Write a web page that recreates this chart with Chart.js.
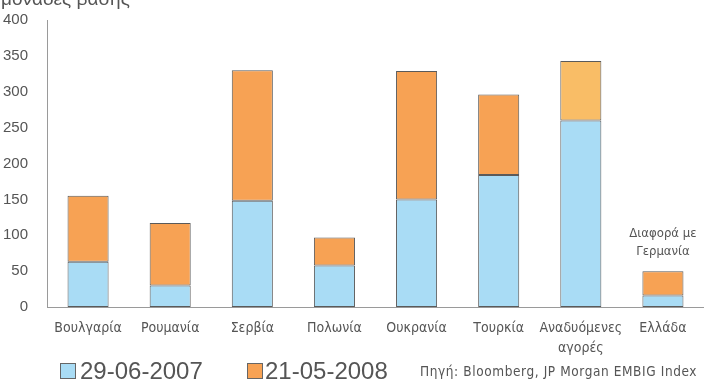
<!DOCTYPE html>
<html>
<head>
<meta charset="utf-8">
<script src="https://cdn.jsdelivr.net/npm/chart.js@4"></script>
<style>
  html, body { margin: 0; padding: 0; background: #fff; }
  #wrap { width: 704px; height: 383px; position: relative; }
</style>
</head>
<body>
<div id="wrap"><canvas id="spreads"></canvas></div>
<script>
const countries = ['Βουλγαρία', 'Ρουμανία', 'Σερβία', 'Πολωνία', 'Ουκρανία', 'Τουρκία', ['Αναδυόμενες', 'αγορές'], 'Ελλάδα'];
const spread2007 = [63, 30, 148, 58, 150, 184, 260, 16];
const spread2008 = [155, 117, 330, 97, 329, 296, 343, 50];
const yTicks = [0, 50, 100, 150, 200, 250, 300, 350, 400];

const BLUE = '#a9dcf5';
const ORANGE = '#f7a254';
const LIGHT_ORANGE = '#f9bd66';
const TEXT = '#555555';
const NARROW = '"DejaVu Sans Condensed", "Liberation Sans Narrow", sans-serif';

// orange part = rise between the two dates, stacked on the 2007 bar
const rise = spread2008.map((v, i) => v - spread2007[i]);
const riseColors = countries.map((c, i) => (i === 6 ? LIGHT_ORANGE : ORANGE));

const extras = {
    id: 'extras',
    afterDraw(chart) {
        const c = chart.ctx;
        const x = chart.scales.x;
        const y = chart.scales.y;
        c.save();

        // unit title at the top (cut by the frame)
        c.fillStyle = TEXT;
        c.font = '19px "Liberation Sans", Arial, sans-serif';
        c.textBaseline = 'alphabetic';
        c.textAlign = 'left';
        c.fillText('μονάδες βάσης', 1, 5);

        // note above the Greece bar
        const gx = x.getPixelForValue(7);
        const gy = y.getPixelForValue(spread2008[7]);
        c.font = '13px ' + NARROW;
        c.textAlign = 'center';
        c.textBaseline = 'middle';
        c.fillText('Διαφορά με', gx, gy - 38);
        c.fillText('Γερμανία', gx, gy - 20);

        // legend
        const ly = 371;
        c.lineWidth = 1;
        c.strokeStyle = '#666';
        c.fillStyle = BLUE;
        c.fillRect(60.5, ly - 7.5, 15, 15);
        c.strokeRect(60.5, ly - 7.5, 15, 15);
        c.fillStyle = ORANGE;
        c.fillRect(247.5, ly - 7.5, 15, 15);
        c.strokeRect(247.5, ly - 7.5, 15, 15);

        c.fillStyle = TEXT;
        c.textAlign = 'left';
        c.font = '24px "Liberation Sans", Arial, sans-serif';
        c.fillText('29-06-2007', 80, ly + 1);
        c.fillText('21-05-2008', 265, ly + 1);

        c.font = '13.5px ' + NARROW;
        c.letterSpacing = '0.6px';
        c.fillText('Πηγή: Bloomberg, JP Morgan EMBIG Index', 420, ly + 1);
        c.restore();
    }
};

new Chart(document.getElementById('spreads'), {
    type: 'bar',
    data: {
        labels: countries,
        datasets: [{
            label: '29-06-2007',
            data: spread2007,
            backgroundColor: BLUE,
            borderColor: '#5a5a5a',
            borderWidth: 1,
            borderSkipped: false,
            barPercentage: 0.5,
            categoryPercentage: 1
        }, {
            label: '21-05-2008',
            data: rise,
            backgroundColor: riseColors,
            borderColor: '#5a5a5a',
            borderWidth: 1,
            borderSkipped: false,
            barPercentage: 0.5,
            categoryPercentage: 1
        }]
    },
    options: {
        responsive: true,
        maintainAspectRatio: false,
        animation: false,
        layout: {
            padding: { top: 18, right: 0, bottom: 0, left: 0 }
        },
        plugins: {
            legend: { display: false },
            tooltip: { enabled: false }
        },
        scales: {
            x: {
                stacked: true,
                afterFit(scale) {
                    scale.height = 76;
                },
                grid: { display: false },
                border: { display: true, color: '#9a9a9a' },
                ticks: {
                    color: TEXT,
                    padding: 4,
                    maxRotation: 0,
                    autoSkip: false,
                    font: { family: NARROW, size: 14, lineHeight: 1.4 }
                }
            },
            y: {
                stacked: true,
                min: 0,
                max: 400,
                afterBuildTicks(scale) {
                    scale.ticks = yTicks.map(v => ({ value: v }));
                },
                afterFit(scale) {
                    scale.width = 47;
                },
                grid: { display: false },
                border: { display: true, color: '#9a9a9a' },
                ticks: {
                    color: TEXT,
                    padding: 11,
                    font: { family: '"Liberation Sans", Arial, sans-serif', size: 15 }
                }
            }
        }
    },
    plugins: [extras]
});
</script>
</body>
</html>
